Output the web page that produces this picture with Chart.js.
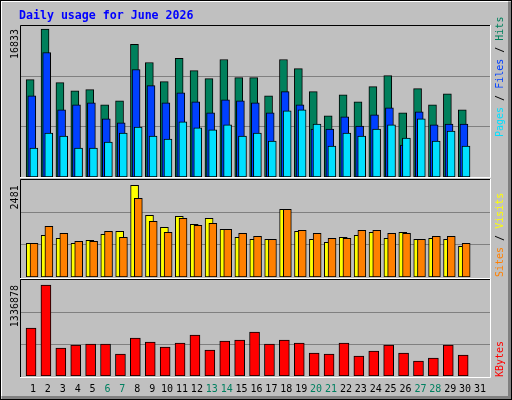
<!DOCTYPE html>
<html><head><meta charset="utf-8">
<script src="https://cdn.jsdelivr.net/npm/chart.js"></script>
<style>
html,body{margin:0;padding:0;background:#fff}
#wrap{position:relative;width:512px;height:400px}
canvas{position:absolute}
</style></head><body>
<div id="wrap">
<canvas id="bg" width="512" height="400" style="left:0;top:0"></canvas>
<canvas id="c1" width="470" height="151" style="top:26px;left:20px"></canvas>
<canvas id="c2" width="470" height="97" style="left:20px;top:180px"></canvas>
<canvas id="c3" width="470" height="96" style="left:20px;top:280px"></canvas>
<canvas id="ov" width="512" height="400" style="left:0;top:0;pointer-events:none"></canvas>
</div>
<script>
const days = Array.from({length:31},(_,i)=>String(i+1));
const weekendDays = [6,7,13,14,20,21,27,28];
const hits = [11070,16833,10730,9810,9930,8210,8670,15080,13020,10840,13480,12100,11190,13360,11300,11300,9240,13360,12330,9700,6950,9350,8550,10270,11530,7290,10040,8210,9470,7640];
const files = [9240,14160,7640,8210,8440,6610,6150,12220,10390,8440,9580,8550,7290,8780,8670,8440,7290,9700,8210,5460,5460,6840,5800,7060,7870,3630,7410,5920,6030,6030];
const pages = [3290,5000,4660,3290,3290,3970,5000,5690,4660,4320,6260,5580,5350,5920,4660,5000,4090,7520,7640,6030,3520,5000,4660,5460,5920,4430,6610,4090,5230,3520];
const visits = [911,1127,1046,911,992,1155,1236,2481,1669,1344,1642,1425,1588,1290,1073,1019,1019,1831,1236,1019,938,1073,1127,1209,1046,1209,1019,1046,1019,830];
const sites = [911,1371,1182,965,965,1236,1073,2129,1506,1209,1588,1398,1452,1290,1182,1100,1019,1831,1263,1182,1046,1046,1263,1263,1182,1182,1019,1100,1100,911];
const kbytes = [705000,1336878,411000,455000,470000,470000,323000,558000,499000,426000,485000,602000,382000,514000,529000,646000,470000,529000,485000,338000,323000,485000,294000,367000,455000,338000,220000,264000,455000,308000];
const maxHits = 16833, maxVisits = 2481, maxKB = 1336878;

const XMIN = 0.13, XMAX = 31.67;
function pts(arr, off){ return arr.map((v,i)=>({x:i+1+off,y:v})); }
function ds(arr,off,color,order,w){
  return {data:pts(arr,off),backgroundColor:color,borderColor:'#000',borderWidth:1,borderSkipped:false,barThickness:w,order:order,grouped:false};
}
function make(id, datasets, ymax){
  return new Chart(document.getElementById(id),{
    type:'bar',
    data:{datasets},
    options:{
      responsive:false,animation:false,
      layout:{padding:0},
      plugins:{legend:{display:false},tooltip:{enabled:false}},
      scales:{
        x:{type:'linear',min:XMIN,max:XMAX,offset:false,display:false},
        y:{min:0,max:ymax,display:true,
           afterBuildTicks:a=>{a.ticks=[ymax/3,2*ymax/3].map(v=>({value:v}));},
           afterFit:s=>{s.width=0;},
           ticks:{display:false},
           grid:{color:'#808080',lineWidth:1,drawTicks:false},
           border:{display:false}}
      }
    }
  });
}
const ch1 = make('c1',[ds(hits,-0.19,'#00805c',3,8),ds(files,-0.08,'#0040ff',2,8),ds(pages,0.06,'#00e0ff',1,8)], maxHits*1.02);
const ch2 = make('c2',[ds(visits,-0.18,'#ffff00',2,8),ds(sites,0.07,'#ff8000',1,8)], maxVisits*1.058);
const ch3 = make('c3',[ds(kbytes,-0.13,'#ff0000',1,10)], maxKB*1.055);

const b = document.getElementById('bg').getContext('2d');
b.fillStyle='#c0c0c0'; b.fillRect(0,0,512,400);
b.fillStyle='#808080'; b.fillRect(508,2,3,397); b.fillRect(2,396,509,3);
b.fillStyle='#fff'; b.fillRect(1,1,507,1); b.fillRect(1,1,1,395);
b.strokeStyle='#000'; b.lineWidth=1; b.strokeRect(0.5,0.5,511,399);

const o = document.getElementById('ov').getContext('2d');
function panel(t,h){
  o.strokeStyle='#000'; o.beginPath(); o.moveTo(20.5,t+h); o.lineTo(20.5,t+0.5); o.lineTo(490,t+0.5); o.stroke();
  o.strokeStyle='#fff'; o.beginPath(); o.moveTo(490.5,t); o.lineTo(490.5,t+h+0.5); o.lineTo(20,t+h+0.5); o.stroke();
}
panel(25,152); panel(179,99); panel(279,98);
o.font='bold 11.6px "DejaVu Sans Mono"'; o.fillStyle='#0000ff'; o.textBaseline='alphabetic';
o.fillText('Daily usage for June 2026',19,19);

function vtext(parts,x,yBottom){
  o.save(); o.translate(x,yBottom); o.rotate(-Math.PI/2);
  o.font='10px "DejaVu Sans Mono"'; o.textBaseline='middle';
  let cx=0;
  for(const [t,c] of parts){ o.fillStyle=c; o.fillText(t,cx,0); cx+=o.measureText(t).width; }
  o.restore();
}
function vwidth(s){o.font='10px "DejaVu Sans Mono"';return o.measureText(s).width;}
function leftLabel(chart,top,val){
  const y = top + chart.scales.y.getPixelForValue(val);
  vtext([[String(val),'#000']],15,y+vwidth(String(val)));
}
leftLabel(ch1,26,maxHits); leftLabel(ch2,180,maxVisits); leftLabel(ch3,280,maxKB);
vtext([['Pages','#00e0ff'],[' / ','#000'],['Files','#0040ff'],[' / ','#000'],['Hits','#00805c']],500,137);
vtext([['Sites','#ff8000'],[' / ','#000'],['Visits','#ffff00']],500,277);
vtext([['KBytes','#ff0000']],500,377);
o.font='10px "DejaVu Sans Mono"'; o.textAlign='center'; o.textBaseline='middle';
days.forEach((d,i)=>{
  const x = 20 + ch3.scales.x.getPixelForValue(i+1);
  o.fillStyle = weekendDays.includes(i+1)?'#008060':'#000';
  o.fillText(d,x,389);
});
</script>
</body></html>
